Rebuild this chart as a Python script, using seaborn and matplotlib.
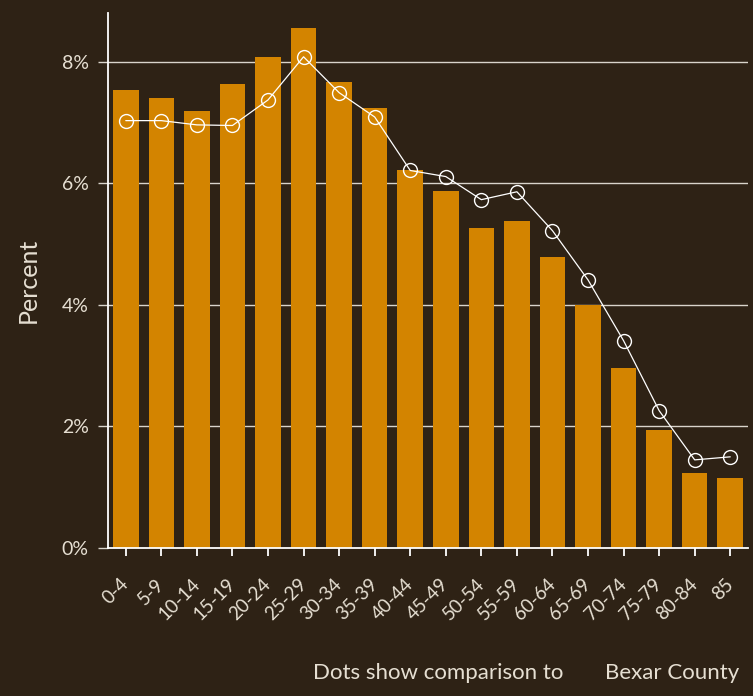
import numpy as np
import pandas as pd
import matplotlib
matplotlib.use("Agg")
import matplotlib.pyplot as plt
import seaborn as sns

age_groups = ['0-4', '5-9', '10-14', '15-19', '20-24', '25-29', '30-34', '35-39',
              '40-44', '45-49', '50-54', '55-59', '60-64', '65-69', '70-74',
              '75-79', '80-84', '85']
area_pct = [7.54, 7.41, 7.19, 7.64, 8.07, 8.56, 7.67, 7.23, 6.21, 5.88,
            5.27, 5.38, 4.79, 4.00, 2.96, 1.94, 1.23, 1.15]
bexar_pct = [7.03, 7.03, 6.96, 6.95, 7.37, 8.08, 7.49, 7.09, 6.21, 6.11,
             5.73, 5.86, 5.22, 4.41, 3.41, 2.26, 1.45, 1.50]
y_ticks = [0, 2, 4, 6, 8]

bg = '#2e2215'
bar_col = '#d38400'
txt = '#e6dfd2'
grid_col = '#d9d4cb'

sns.set_style('white')
plt.rcParams['font.family'] = ['Lato', 'DejaVu Sans']

df = pd.DataFrame({'age': age_groups, 'area': area_pct, 'bexar': bexar_pct})

fig = plt.figure(figsize=(7.53, 6.96), dpi=100, facecolor=bg)
ax = fig.add_axes([0.1434, 0.2126, 0.85, 0.7687])
ax.set_facecolor(bg)

# bars = selected area, dots = Bexar County
sns.barplot(data=df, x='age', y='area', color=bar_col, saturation=1,
            width=0.72, linewidth=0, edgecolor='none', ax=ax, zorder=2)
sns.lineplot(data=df, x='age', y='bexar', sort=False, color='white',
             linewidth=0.9, marker='o', markersize=10,
             markerfacecolor='none', markeredgecolor='white',
             markeredgewidth=1.0, ax=ax, zorder=3)

ax.set_xlim(-0.5, 17.5)
ax.set_ylim(0, 8.8)
ax.set_yticks(y_ticks)
ax.set_yticklabels([f'{v}%' for v in y_ticks])
for v in y_ticks[1:]:
    ax.axhline(v, color=grid_col, linewidth=1, zorder=1)

for side in ['top', 'right']:
    ax.spines[side].set_visible(False)
for side in ['left', 'bottom']:
    ax.spines[side].set_color('white')
    ax.spines[side].set_linewidth(1.3)

ax.tick_params(axis='y', colors=grid_col, labelcolor=txt, labelsize=14,
               length=7, width=1, pad=7, left=True)
ax.tick_params(axis='x', colors='white', labelcolor=txt, labelsize=13.5,
               length=6, width=1.3, pad=18, bottom=True)
plt.setp(ax.get_xticklabels(), rotation=45, ha='right', va='center',
         rotation_mode='anchor')

ax.set_xlabel('')
ax.set_ylabel('Percent', color=txt, fontsize=18, labelpad=16)

fig.text(0.416, 0.024, 'Dots show comparison to', color=txt, fontsize=16)
fig.text(0.8035, 0.024, 'Bexar County', color=txt, fontsize=16)

fig.savefig('out.png', dpi=100, facecolor=bg)
